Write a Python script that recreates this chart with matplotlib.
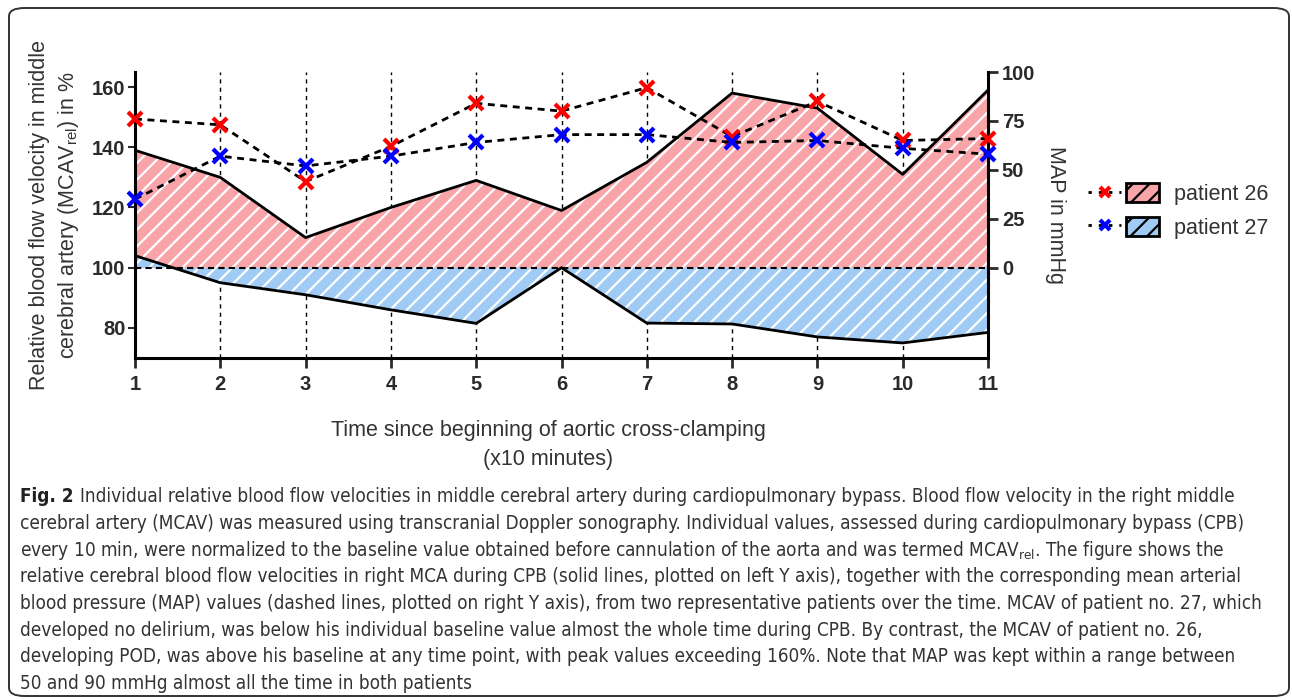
import numpy as np
import matplotlib
matplotlib.use('Agg')
import matplotlib.pyplot as plt
from matplotlib import font_manager as fm
from matplotlib.patches import Patch, FancyBboxPatch
from matplotlib.lines import Line2D
from matplotlib.legend_handler import HandlerTuple

plt.rcParams['font.family'] = ['Liberation Sans', 'DejaVu Sans']
plt.rcParams['mathtext.default'] = 'regular'
plt.rcParams['hatch.linewidth'] = 1.6

# data
time_pts = [1, 2, 3, 4, 5, 6, 7, 8, 9, 10, 11]
mcav_26 = [139, 130, 110, 120, 129, 119, 135, 158, 153, 131, 159]     # % (left axis)
mcav_27 = [104, 95, 91, 86, 81.5, 100, 81.6, 81.3, 77, 75, 78.5]
map_26 = [76, 73, 44, 62, 84, 80, 92, 67, 85, 65, 66]                 # mmHg (right axis)
map_27 = [35, 57, 52, 57, 64, 68, 68, 64, 65, 61, 58]
baseline = 100
left_ticks = [80, 100, 120, 140, 160]
right_ticks = [0, 25, 50, 75, 100]
patients = ['patient 26', 'patient 27']

pink = '#f8a4a8'
blue = '#9fcbf5'
txt = '#2a2a2a'

fig = plt.figure(figsize=(12.92, 7), dpi=100)

# rounded frame around the whole figure
frame = FancyBboxPatch((9 / 1292, 4 / 700), 1280 / 1292, 688 / 700,
                       boxstyle='round,pad=0,rounding_size=0.012',
                       transform=fig.transFigure, fill=False,
                       edgecolor='#333333', linewidth=1.4)
fig.patches.append(frame)

ax = fig.add_axes([135 / 1292, 1 - 358 / 700, 853 / 1292, 286 / 700])
ax2 = ax.twinx()

ax.set_xlim(1, 11)
ax.set_ylim(70, 165)
# right axis: 0 mmHg sits on the 100 % baseline
r_top = 100
frac = (baseline - 70) / (165 - 70)
ax2.set_ylim(-r_top * frac / (1 - frac), r_top)

# vertical dotted grid
for t in time_pts[1:-1]:
    ax.axvline(t, color='black', lw=1, ls=(0, (3, 3)), zorder=0.5)

ax.fill_between(time_pts, baseline, mcav_26, facecolor=pink, edgecolor='white',
                hatch='//', linewidth=0, zorder=1)
ax.fill_between(time_pts, baseline, mcav_27, facecolor=blue, edgecolor='white',
                hatch='//', linewidth=0, zorder=1.1)
ax.plot(time_pts, mcav_26, color='black', lw=2, zorder=2)
ax.plot(time_pts, mcav_27, color='black', lw=2, zorder=2)
ax.axhline(baseline, color='black', lw=1.5, ls=(0, (3, 2)), zorder=2)

ax2.plot(time_pts, map_26, color='black', lw=2, ls=(0, (2.5, 2)),
         marker='x', ms=10, mew=3, mec='red', zorder=3, clip_on=False)
ax2.plot(time_pts, map_27, color='black', lw=2, ls=(0, (2.5, 2)),
         marker='x', ms=10, mew=3, mec='blue', zorder=3, clip_on=False)

for a in (ax, ax2):
    a.spines['top'].set_visible(False)
    for s in ('left', 'right', 'bottom'):
        a.spines[s].set_linewidth(2.2)
ax.spines['right'].set_visible(False)
ax2.spines['left'].set_visible(False)
ax2.spines['bottom'].set_visible(False)

ax.set_xticks(time_pts)
ax.set_yticks(left_ticks)
ax2.set_yticks(right_ticks)
ax.tick_params(axis='x', length=7, width=2, labelsize=14.5, pad=5, colors=txt)
ax.tick_params(axis='y', length=5, width=1.5, labelsize=14.5, pad=2, colors=txt)
ax2.tick_params(axis='y', length=7, width=2, labelsize=14.5, pad=3, colors=txt)
for lab in ax.get_xticklabels() + ax.get_yticklabels() + ax2.get_yticklabels():
    lab.set_fontweight('bold')

ax.set_ylabel('Relative blood flow velocity in middle\ncerebral artery (MCAV$_{rel}$) in %',
              fontsize=15.5, color='#333333', labelpad=8, linespacing=1.3)
ax2.set_ylabel('MAP in mmHg', fontsize=15.5, color='#333333', rotation=-90,
               labelpad=22)
fig.text(548 / 1292, 1 - 445 / 700,
         'Time since beginning of aortic cross-clamping\n(x10 minutes)',
         ha='center', va='center', fontsize=15.5, color='#333333', linespacing=1.45)

# legend: dotted line with marker + hatched box
handles = []
for c, fc in (('red', pink), ('blue', blue)):
    ln = Line2D([], [], color='black', lw=2, ls=(0, (1.2, 2.5)), marker='x',
                ms=7, mew=3, mec=c)
    pt = Patch(facecolor=fc, edgecolor='black', hatch='//', linewidth=2)
    handles.append((ln, pt))
leg = fig.legend(handles, patients, loc='upper left',
                 bbox_to_anchor=(1088 / 1292, 1 - 183 / 700),
                 handler_map={tuple: HandlerTuple(ndivide=None, pad=0.2)},
                 handlelength=3.3, handleheight=1.0, frameon=False,
                 fontsize=15.5, labelspacing=0.55, handletextpad=0.7,
                 borderpad=0, borderaxespad=0)
for t in leg.get_texts():
    t.set_color('#333333')

# caption, set in a narrow face if one is available
cap_reg, cap_bold = None, None
for f in fm.fontManager.ttflist:
    n = (f.name + ' ' + f.fname).lower()
    if ('narrow' in n or 'condensed' in n) and 'italic' not in n and 'oblique' not in n:
        if f.weight in ('bold', 700) or 'bold' in f.fname.lower():
            cap_bold = cap_bold or f.fname
        elif 'light' not in n and 'semibold' not in n:
            cap_reg = cap_reg or f.fname
if cap_reg:
    fp_reg = fm.FontProperties(fname=cap_reg)
    fp_bold = fm.FontProperties(fname=cap_bold) if cap_bold else fm.FontProperties(fname=cap_reg, weight='bold')
else:
    fp_reg = fm.FontProperties(family='Liberation Sans')
    fp_bold = fm.FontProperties(family='Liberation Sans', weight='bold')

cap_lines = [
    'Individual relative blood flow velocities in middle cerebral artery during cardiopulmonary bypass. Blood flow velocity in the right middle',
    'cerebral artery (MCAV) was measured using transcranial Doppler sonography. Individual values, assessed during cardiopulmonary bypass (CPB)',
    'every 10 min, were normalized to the baseline value obtained before cannulation of the aorta and was termed MCAV$_{rel}$. The figure shows the',
    'relative cerebral blood flow velocities in right MCA during CPB (solid lines, plotted on left Y axis), together with the corresponding mean arterial',
    'blood pressure (MAP) values (dashed lines, plotted on right Y axis), from two representative patients over the time. MCAV of patient no. 27, which',
    'developed no delirium, was below his individual baseline value almost the whole time during CPB. By contrast, the MCAV of patient no. 26,',
    'developing POD, was above his baseline at any time point, with peak values exceeding 160%. Note that MAP was kept within a range between',
    '50 and 90 mmHg almost all the time in both patients',
]
renderer = fig.canvas.get_renderer()
x0 = 20 / 1292
fs = 13
# scale caption font so the widest line spans the reference width
probe = fig.text(x0, 0, cap_lines[3], fontsize=fs, fontproperties=fp_reg)
probe.set_fontsize(fs)
w = probe.get_window_extent(renderer).width
probe.remove()
fs = fs * (1245 - 20) / w
fp_reg.set_size(fs)
fp_bold.set_size(fs)
ys = [497 + 26.6 * i for i in range(len(cap_lines))]
for i, (line, y) in enumerate(zip(cap_lines, ys)):
    x = x0
    if i == 0:
        b = fig.text(x, 1 - y / 700, 'Fig. 2 ', fontproperties=fp_bold,
                     va='center', color='#222222')
        x += b.get_window_extent(renderer).width / 1292
    fig.text(x, 1 - y / 700, line, fontproperties=fp_reg, va='center',
             color='#333333')

fig.savefig('out.png', dpi=100)
